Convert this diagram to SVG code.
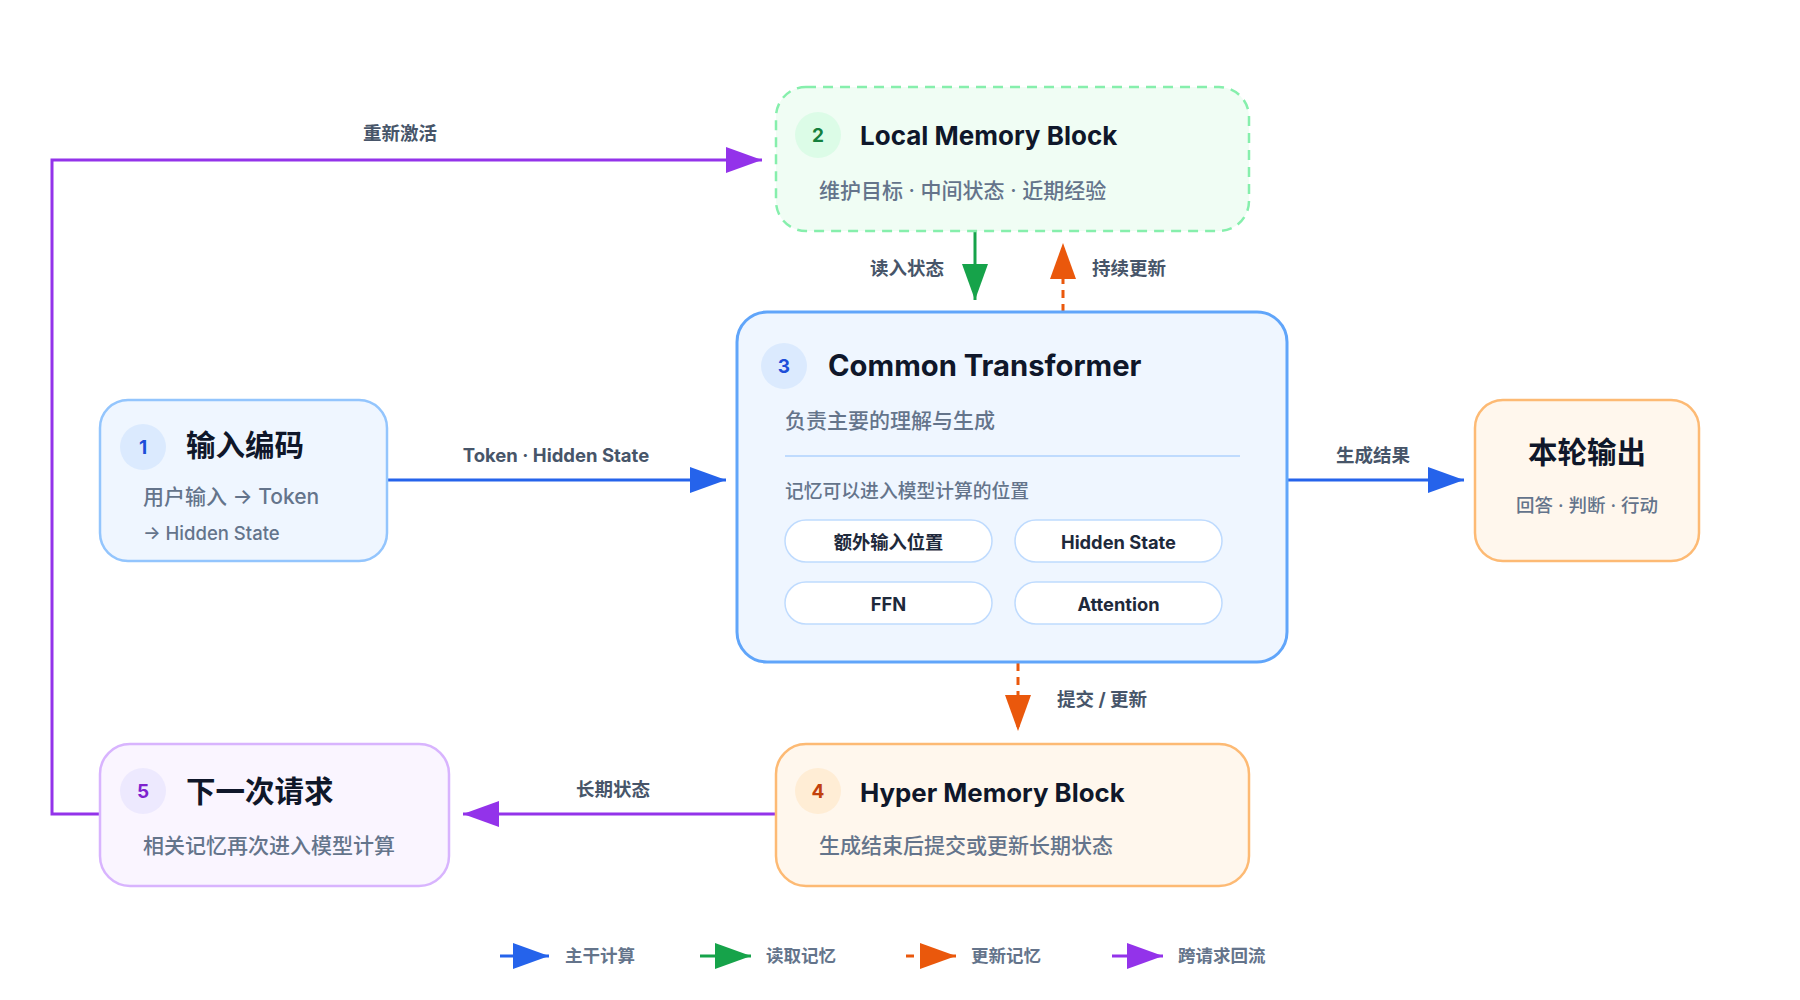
<svg xmlns="http://www.w3.org/2000/svg" width="1800" height="1000" viewBox="0 0 1800 1000">
<style>
  text { font-family: "Inter", "Noto Sans CJK SC", "Noto Sans", sans-serif; }
  .title { font-size: 26px; font-weight: 700; fill: #0f172a; }
  .titlecjk { font-size: 29.5px; font-weight: 700; fill: #0f172a; }
  .sub { font-size: 21px; font-weight: 500; fill: #64748b; }
  .small { font-size: 18.5px; font-weight: 500; fill: #64748b; }
  .num { font-size: 19px; font-weight: 700; text-anchor: middle; }
  .lbl { font-size: 18.5px; font-weight: 700; fill: #475569; }
  .pill { fill: #ffffff; stroke: #bfdbfe; stroke-width: 1.5; }
  .pilltxt { font-size: 18.3px; font-weight: 700; fill: #1e293b; text-anchor: middle; }
  .leg { font-size: 17.5px; font-weight: 700; fill: #64748b; }
  .c { fill: none; stroke-width: 3; }
</style>
<defs>
  <marker id="aB" markerUnits="userSpaceOnUse" markerWidth="37" markerHeight="26" refX="36" refY="13" orient="auto"><path d="M0,0 L36,13 L0,26 z" fill="#2563eb"/></marker>
  <marker id="aG" markerUnits="userSpaceOnUse" markerWidth="37" markerHeight="26" refX="36" refY="13" orient="auto"><path d="M0,0 L36,13 L0,26 z" fill="#16a34a"/></marker>
  <marker id="aO" markerUnits="userSpaceOnUse" markerWidth="37" markerHeight="26" refX="36" refY="13" orient="auto"><path d="M0,0 L36,13 L0,26 z" fill="#ea580c"/></marker>
  <marker id="aP" markerUnits="userSpaceOnUse" markerWidth="37" markerHeight="26" refX="36" refY="13" orient="auto"><path d="M0,0 L36,13 L0,26 z" fill="#9333ea"/></marker>
</defs>
<rect width="1800" height="1000" fill="#ffffff"/>

<g id="connectors">
  <polyline class="c" points="100,814 52,814 52,160 762,160" stroke="#9333ea" marker-end="url(#aP)"/>
  <text class="lbl" x="400" y="140" text-anchor="middle">重新激活</text>
  <line class="c" x1="975" y1="231" x2="975" y2="300" stroke="#16a34a" marker-end="url(#aG)"/>
  <text class="lbl" x="944" y="275" text-anchor="end">读入状态</text>
  <line class="c" x1="1063" y1="312" x2="1063" y2="243" stroke="#ea580c" stroke-dasharray="8 6" marker-end="url(#aO)"/>
  <text class="lbl" x="1092" y="275">持续更新</text>
  <line class="c" x1="388" y1="480" x2="726" y2="480" stroke="#2563eb" marker-end="url(#aB)"/>
  <text class="lbl" x="556" y="462" text-anchor="middle">Token · Hidden State</text>
  <line class="c" x1="1288" y1="480" x2="1464" y2="480" stroke="#2563eb" marker-end="url(#aB)"/>
  <text class="lbl" x="1373" y="462" text-anchor="middle">生成结果</text>
  <line class="c" x1="1018" y1="663" x2="1018" y2="731" stroke="#ea580c" stroke-dasharray="8 6" marker-end="url(#aO)"/>
  <text class="lbl" x="1057" y="706">提交 / 更新</text>
  <line class="c" x1="776" y1="814" x2="463" y2="814" stroke="#9333ea" marker-end="url(#aP)"/>
  <text class="lbl" x="613" y="796" text-anchor="middle">长期状态</text>
</g>

<g id="node-local-memory">
  <rect x="776" y="87" width="473" height="144" rx="30" fill="#f0fdf4" stroke="#86efac" stroke-width="2.5" stroke-dasharray="10 7"/>
  <circle cx="818" cy="135" r="23" fill="#dcfce7"/>
  <text class="num" x="818" y="142" fill="#15803d">2</text>
  <text class="title" x="860" y="145">Local Memory Block</text>
  <text class="sub" x="819" y="198">维护目标 · 中间状态 · 近期经验</text>
</g>

<g id="node-transformer">
  <rect x="737" y="312" width="550" height="350" rx="30" fill="#eff6ff" stroke="#60a5fa" stroke-width="3"/>
  <circle cx="784" cy="366" r="23" fill="#dbeafe"/>
  <text class="num" x="784" y="373" fill="#1d4ed8">3</text>
  <text class="title" x="828" y="376" style="font-size:29.2px">Common Transformer</text>
  <text class="sub" x="785" y="428">负责主要的理解与生成</text>
  <line x1="785" y1="456" x2="1240" y2="456" stroke="#bfdbfe" stroke-width="2"/>
  <text class="small" x="785" y="498" style="font-size:18.8px">记忆可以进入模型计算的位置</text>
  <rect class="pill" x="785" y="520" width="207" height="42" rx="21"/>
  <text class="pilltxt" x="888.5" y="549">额外输入位置</text>
  <rect class="pill" x="1015" y="520" width="207" height="42" rx="21"/>
  <text class="pilltxt" x="1118.5" y="549">Hidden State</text>
  <rect class="pill" x="785" y="582" width="207" height="42" rx="21"/>
  <text class="pilltxt" x="888.5" y="611">FFN</text>
  <rect class="pill" x="1015" y="582" width="207" height="42" rx="21"/>
  <text class="pilltxt" x="1118.5" y="611">Attention</text>
</g>

<g id="node-input">
  <rect x="100" y="400" width="287" height="161" rx="28" fill="#eff6ff" stroke="#93c5fd" stroke-width="2.5"/>
  <circle cx="143" cy="447" r="23" fill="#dbeafe"/>
  <text class="num" x="143" y="454" fill="#1d4ed8">1</text>
  <text class="titlecjk" x="186" y="456">输入编码</text>
  <text class="sub" x="143" y="504">用户输入 → Token</text>
  <text class="small" x="143" y="540">→ Hidden State</text>
</g>

<g id="node-output">
  <rect x="1475" y="400" width="224" height="161" rx="28" fill="#fff7ed" stroke="#fdba74" stroke-width="2.5"/>
  <text class="titlecjk" x="1587" y="463" text-anchor="middle">本轮输出</text>
  <text class="small" x="1587" y="512" text-anchor="middle">回答 · 判断 · 行动</text>
</g>

<g id="node-hyper-memory">
  <rect x="776" y="744" width="473" height="142" rx="30" fill="#fff7ed" stroke="#fdba74" stroke-width="2.5"/>
  <circle cx="818" cy="791" r="23" fill="#ffedd5"/>
  <text class="num" x="818" y="798" fill="#c2410c">4</text>
  <text class="title" x="860" y="802" style="font-size:25.8px">Hyper Memory Block</text>
  <text class="sub" x="819" y="853">生成结束后提交或更新长期状态</text>
</g>

<g id="node-next-request">
  <rect x="100" y="744" width="349" height="142" rx="30" fill="#faf5ff" stroke="#d8b4fe" stroke-width="2.5"/>
  <circle cx="143" cy="791" r="23" fill="#ede9fe"/>
  <text class="num" x="143" y="798" fill="#7e22ce">5</text>
  <text class="titlecjk" x="186" y="802">下一次请求</text>
  <text class="sub" x="143" y="853">相关记忆再次进入模型计算</text>
</g>

<g id="legend">
  <line class="c" x1="500" y1="956" x2="549" y2="956" stroke="#2563eb" marker-end="url(#aB)"/>
  <text class="leg" x="565" y="962">主干计算</text>
  <line class="c" x1="700" y1="956" x2="751" y2="956" stroke="#16a34a" marker-end="url(#aG)"/>
  <text class="leg" x="766" y="962">读取记忆</text>
  <line class="c" x1="906" y1="956" x2="956" y2="956" stroke="#ea580c" stroke-dasharray="8 6" marker-end="url(#aO)"/>
  <text class="leg" x="971" y="962">更新记忆</text>
  <line class="c" x1="1112" y1="956" x2="1163" y2="956" stroke="#9333ea" marker-end="url(#aP)"/>
  <text class="leg" x="1178" y="962">跨请求回流</text>
</g>
</svg>
